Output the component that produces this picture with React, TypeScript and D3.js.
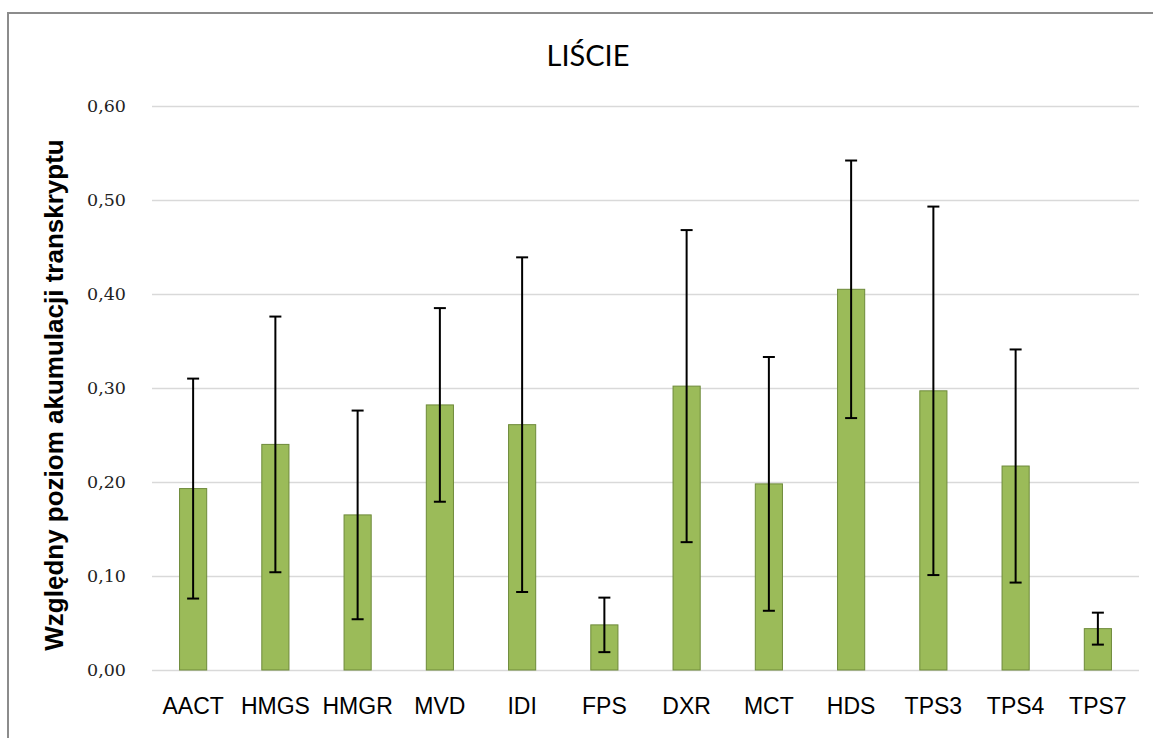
import React, { useEffect, useRef } from "react";
import * as d3 from "d3";

const genes = ["AACT", "HMGS", "HMGR", "MVD", "IDI", "FPS", "DXR", "MCT", "HDS", "TPS3", "TPS4", "TPS7"];
const means = [0.193, 0.240, 0.165, 0.282, 0.261, 0.048, 0.302, 0.198, 0.405, 0.297, 0.217, 0.044];
const errors = [0.117, 0.136, 0.111, 0.103, 0.178, 0.029, 0.166, 0.135, 0.137, 0.196, 0.124, 0.017];
const yTicks = [0, 0.1, 0.2, 0.3, 0.4, 0.5, 0.6];

const W = 1153;
const H = 738;
const left = 152;
const right = 1139;
const top = 106;
const bottom = 670;

const App = () => {
    const ref = useRef<SVGSVGElement>(null);

    useEffect(() => {
        const svg = d3.select(ref.current);
        svg.selectAll("*").remove();

        const x = d3.scaleBand().domain(genes).range([left, right]).paddingInner(0.67).paddingOuter(0.335);
        const y = d3.scaleLinear().domain([0, 0.6]).range([bottom, top]);
        const fmt = (v: number) => d3.format(".2f")(v).replace(".", ",");

        // frame around the chart
        svg.append("rect")
            .attr("x", 8).attr("y", 13)
            .attr("width", W + 20).attr("height", H + 20)
            .attr("fill", "white")
            .attr("stroke", "#8c8c8c")
            .attr("stroke-width", 2);

        // gridlines
        svg.append("g")
            .selectAll("line")
            .data(yTicks)
            .join("line")
            .attr("x1", left).attr("x2", right)
            .attr("y1", d => Math.round(y(d)) + 0.5)
            .attr("y2", d => Math.round(y(d)) + 0.5)
            .attr("stroke", "#d9d9d9")
            .attr("stroke-width", 1.5);

        // y tick labels
        svg.append("g")
            .selectAll("text")
            .data(yTicks)
            .join("text")
            .attr("x", 126)
            .attr("y", d => y(d))
            .attr("dy", "0.35em")
            .attr("text-anchor", "end")
            .attr("font-family", "DejaVu Serif")
            .attr("font-size", 17.5)
            .attr("fill", "#222")
            .text(d => fmt(d));

        // bars
        svg.append("g")
            .selectAll("rect")
            .data(genes)
            .join("rect")
            .attr("x", d => x(d)!)
            .attr("y", (d, i) => y(means[i]))
            .attr("width", x.bandwidth())
            .attr("height", (d, i) => y(0) - y(means[i]))
            .attr("fill", "#9bbb59")
            .attr("stroke", "#6e8a3a")
            .attr("stroke-width", 1);

        // error bars
        const eb = svg.append("g")
            .selectAll("g")
            .data(genes)
            .join("g")
            .attr("stroke", "#000")
            .attr("stroke-width", 2);
        const cx = (d: string) => x(d)! + x.bandwidth() / 2;
        eb.append("line")
            .attr("x1", d => cx(d)).attr("x2", d => cx(d))
            .attr("y1", (d, i) => y(means[i] + errors[i]))
            .attr("y2", (d, i) => y(means[i] - errors[i]));
        eb.append("line")
            .attr("x1", d => cx(d) - 6).attr("x2", d => cx(d) + 6)
            .attr("y1", (d, i) => y(means[i] + errors[i]))
            .attr("y2", (d, i) => y(means[i] + errors[i]));
        eb.append("line")
            .attr("x1", d => cx(d) - 6).attr("x2", d => cx(d) + 6)
            .attr("y1", (d, i) => y(means[i] - errors[i]))
            .attr("y2", (d, i) => y(means[i] - errors[i]));

        // category labels
        svg.append("g")
            .selectAll("text")
            .data(genes)
            .join("text")
            .attr("x", d => cx(d))
            .attr("y", 714)
            .attr("text-anchor", "middle")
            .attr("font-family", "Liberation Sans, Arial, sans-serif")
            .attr("font-size", 23)
            .attr("fill", "#000")
            .text(d => d);

        // title
        svg.append("text")
            .attr("x", 588).attr("y", 66)
            .attr("text-anchor", "middle")
            .attr("font-family", "Lato, sans-serif")
            .attr("font-size", 29)
            .attr("fill", "#000")
            .text("LIŚCIE");

        // y axis title
        svg.append("text")
            .attr("transform", "translate(63,395) rotate(-90)")
            .attr("text-anchor", "middle")
            .attr("font-family", "Liberation Sans, Arial, sans-serif")
            .attr("font-weight", "bold")
            .attr("font-size", 26)
            .attr("fill", "#000")
            .text("Względny poziom akumulacji transkryptu");
    }, []);

    return (
        <svg
            ref={ref}
            width={W}
            height={H}
            style={{ position: "absolute", left: 0, top: 0 }}
        />
    );
};

export default App;
